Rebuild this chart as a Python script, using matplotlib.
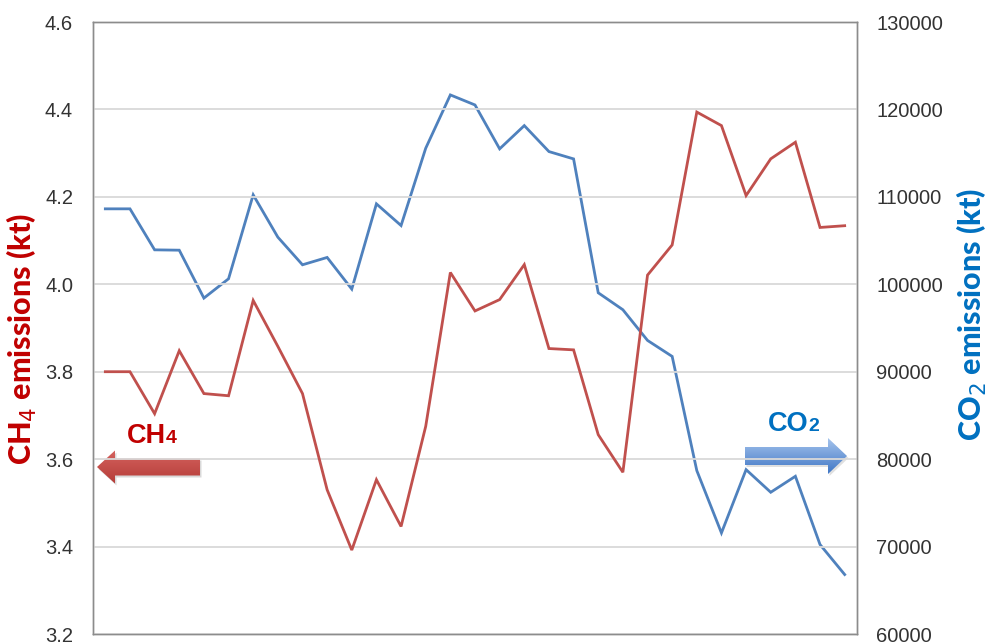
import numpy as np
import matplotlib
matplotlib.use("Agg")
import matplotlib.pyplot as plt
from matplotlib.patches import Polygon
from matplotlib.colors import LinearSegmentedColormap

# ---- data (31 yearly points) ----
ch4 = [3.80, 3.80, 3.704, 3.848, 3.750, 3.745, 3.963, 3.858, 3.750, 3.530,
       3.392, 3.553, 3.446, 3.675, 4.027, 3.939, 3.965, 4.045, 3.853, 3.850,
       3.656, 3.570, 4.021, 4.090, 4.394, 4.363, 4.203, 4.287, 4.325, 4.130,
       4.134]
co2 = [108630, 108630, 103940, 103900, 98420, 100630, 110230, 105390, 102230, 103070,
       99450, 109200, 106720, 115560, 121660, 120510, 115490, 118150, 115180, 114340,
       99030, 97090, 93580, 91750, 78690, 71560, 78800, 76210, 78040, 70230,
       66800]
x = np.arange(len(ch4))

left_ticks = [3.2, 3.4, 3.6, 3.8, 4.0, 4.2, 4.4, 4.6]
right_ticks = [60000, 70000, 80000, 90000, 100000, 110000, 120000, 130000]

RED = "#C0504D"
BLUE = "#4F81BD"
LBL_RED = "#C00000"
LBL_BLUE = "#0070C0"
TXT = "#333333"

plt.rcParams['font.family'] = ['Liberation Sans', 'DejaVu Sans']

W, H = 988, 644
fig = plt.figure(figsize=(W / 100, H / 100), dpi=100)
L, R, T, B = 93, 857, 22, 634
ax = fig.add_axes([L / W, 1 - B / H, (R - L) / W, (B - T) / H])
ax2 = ax.twinx()

ax.set_xlim(-0.5, len(ch4) - 0.5)
ax.set_ylim(3.2, 4.6)
ax2.set_ylim(60000, 130000)
ax.set_yticks(left_ticks)
ax.set_yticklabels([f"{v:.1f}" for v in left_ticks])
ax2.set_yticks(right_ticks)
ax2.set_yticklabels([str(v) for v in right_ticks])
ax.set_xticks([])
ax.grid(axis='y', color='#D9D9D9', linewidth=1.3)
ax.set_axisbelow(True)

for a in (ax, ax2):
    a.tick_params(axis='y', length=0, labelsize=14.5, colors=TXT)
    for s in a.spines.values():
        s.set_color('#8C8C8C')
        s.set_linewidth(1.0)
ax.tick_params(axis='y', pad=14.4)
ax2.tick_params(axis='y', pad=13.7)

ax2.plot(x, co2, color=BLUE, linewidth=2.0, solid_joinstyle='miter', zorder=3)
ax.plot(x, ch4, color=RED, linewidth=2.0, solid_joinstyle='miter', zorder=3)
ax.set_zorder(ax2.get_zorder() + 1)
ax.patch.set_visible(False)

# axis labels
fig.text(22 / W, 1 - 339 / H, "CH$_4$ emissions (kt)", rotation=90, color=LBL_RED,
         fontsize=22, fontweight='black', family=['Lato', 'DejaVu Sans'],
         ha='center', va='center')
fig.text(972 / W, 1 - 314 / H, "CO$_2$ emissions (kt)", rotation=90, color=LBL_BLUE,
         fontsize=22, fontweight='black', family=['Lato', 'DejaVu Sans'],
         ha='center', va='center')

# overlay for arrows (pixel coordinates)
ov = fig.add_axes([0, 0, 1, 1])
ov.axis('off')
ov.patch.set_visible(False)
grad = np.linspace(0, 1, 64).reshape(-1, 1)

# CH4 arrow (pointing left)
cy = 467
red_arrow = [(97, cy), (115, cy - 16.5), (115, cy - 8.5), (200, cy - 8.5),
             (200, cy + 8.5), (115, cy + 8.5), (115, cy + 16.5)]
shadow = [(px + 1.5, py + 2) for px, py in red_arrow]
ov.add_patch(Polygon(shadow, closed=True, facecolor='#000000', alpha=0.15, edgecolor='none'))
rp = Polygon(red_arrow, closed=True, facecolor='none', edgecolor='none')
ov.add_patch(rp)
cm_red = LinearSegmentedColormap.from_list('r', ['#D6635F', '#B33B37'])
im = ov.imshow(grad, cmap=cm_red, extent=(95, 202, cy + 18, cy - 18), aspect='auto', zorder=2)
im.set_clip_path(rp)
ov.text(166, 436, "CH", color=LBL_RED, fontsize=19.5, fontweight='bold',
        ha='right', va='center')
ov.text(166, 438.5, "4", color=LBL_RED, fontsize=14, fontweight='bold',
        ha='left', va='center')

# CO2 arrow (pointing right)
cy2 = 456
blue_arrow = [(847, cy2), (828, cy2 - 18), (828, cy2 - 9), (745, cy2 - 9),
              (745, cy2 + 9), (828, cy2 + 9), (828, cy2 + 18)]
shadow2 = [(px + 1.5, py + 2) for px, py in blue_arrow]
ov.add_patch(Polygon(shadow2, closed=True, facecolor='#000000', alpha=0.12, edgecolor='none'))
bp = Polygon(blue_arrow, closed=True, facecolor='none', edgecolor='none')
ov.add_patch(bp)
cm_blue = LinearSegmentedColormap.from_list('b', ['#A8C6EE', '#3C74C4'])
im2 = ov.imshow(grad, cmap=cm_blue, extent=(743, 849, cy2 + 19, cy2 - 19), aspect='auto', zorder=2)
im2.set_clip_path(bp)
ov.text(808, 424, "CO", color=LBL_BLUE, fontsize=19.5, fontweight='bold',
        ha='right', va='center')
ov.text(808, 426.5, "2", color=LBL_BLUE, fontsize=14, fontweight='bold',
        ha='left', va='center')

ov.set_xlim(0, W)
ov.set_ylim(H, 0)

fig.savefig("out.png", dpi=100)
